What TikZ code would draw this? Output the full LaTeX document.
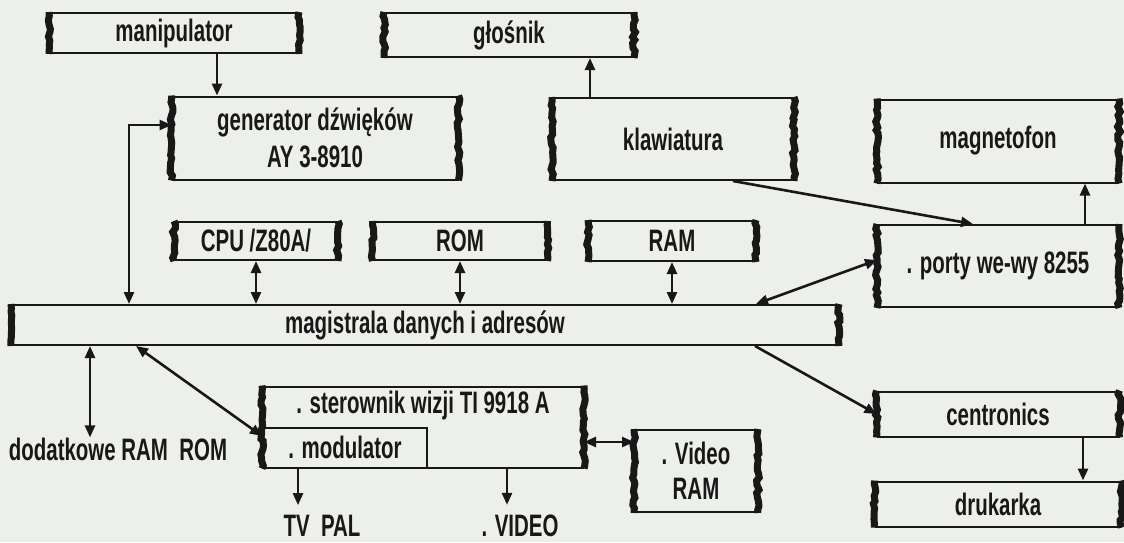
\documentclass[tikz,border=0pt]{standalone}
\usepackage{fontspec}
\setmainfont{Liberation Sans}[FakeStretch=0.66]
\usetikzlibrary{positioning, arrows.meta, decorations.pathmorphing}

\definecolor{tlo}{RGB}{237,239,235}
\definecolor{tusz}{RGB}{24,24,24}

\tikzset{
  blok/.style={draw=tusz, line width=2pt, text=tusz, inner sep=0pt},
  bok/.style={draw=tusz, line width=7pt, decorate,
    decoration={random steps, segment length=4pt, amplitude=1.4pt}},
  strz/.style={draw=tusz, line width=2.6pt, -{Triangle[length=12pt, width=10pt]}},
  dwu/.style={draw=tusz, line width=2.6pt,
    {Triangle[length=12pt, width=10pt]}-{Triangle[length=12pt, width=10pt]}},
  opis/.style={text=tusz, inner sep=0pt},
}

\begin{document}
\begin{tikzpicture}[x=1pt, y=-1pt, font=\fontsize{31}{35}\selectfont\bfseries]
\pgfmathsetseed{7}
\useasboundingbox[fill=tlo] (0,0) rectangle (1124,542);

    % Top row
    \node[blok, minimum width=248pt, minimum height=40pt] (manip) at (174,33) {manipulator};
    \node[blok, minimum width=248pt, minimum height=44pt] (glos) at (509,35) {głośnik};
    
    % Second row
    \node[blok, minimum width=285pt, minimum height=83pt, align=center] (gen) at (315,138) {generator dźwięków\\[2pt]AY 3-8910};
    \node[blok, minimum width=240pt, minimum height=82pt] (klaw) at (673,139) {klawiatura};
    \node[blok, minimum width=240pt, minimum height=83pt] (magn) at (998,141) {magnetofon};
    
    % Processor and memories
    \node[blok, minimum width=162pt, minimum height=38pt] (cpu) at (256,241) {CPU /Z80A/};
    \node[blok, minimum width=173pt, minimum height=38pt] (rom) at (460,241) {ROM};
    \node[blok, minimum width=166pt, minimum height=40pt] (ram) at (672,241) {RAM};
    \node[blok, minimum width=240pt, minimum height=82pt] (porty) at (998,266) {. porty we-wy 8255};
    
    % Bus
    \node[blok, minimum width=826pt, minimum height=40pt] (bus) at (425,325) {magistrala danych i adresów};
    
    % Video part
    \node[blok, minimum width=320pt, minimum height=81pt] (ster) at (423,427) {};
    \node[opis, below=5pt of ster.north] (stertxt) {. sterownik wizji TI 9918 A};
    \node[blok, minimum width=164pt, minimum height=40pt, anchor=south west] (modul) at (ster.south west) {. modulator};
    \node[blok, minimum width=122pt, minimum height=82pt, align=center] (vram) at (696,471) {. Video\\[0pt]RAM};
    
    % Printer
    \node[blok, minimum width=241pt, minimum height=45pt] (cent) at (998,414) {centronics};
    \node[blok, minimum width=245pt, minimum height=45pt] (druk) at (998,504) {drukarka};
    
    % Free labels
    \node[opis] (dodat) at (118,449) {dodatkowe RAM\ \ ROM};
    \node[opis] (tvpal) at (322,526) {TV\ \ PAL};
    \node[opis] (video) at (520,526) {. VIDEO};
    
    % Ragged side edges
    \foreach \n in {manip,glos,gen,klaw,magn,cpu,rom,ram,porty,bus,ster,vram,cent,druk} {
        \draw[bok] (\n.north west) -- (\n.south west);
        \draw[bok] (\n.north east) -- (\n.south east);
    }
    
    % Connections above the bus
    \draw[strz] ([xshift=43pt]manip.south) -- ([xshift=43pt]manip.south |- gen.north);
    \draw[strz] ([xshift=-83pt]klaw.north) -- ([xshift=-83pt]klaw.north |- glos.south);
    \draw[strz] ([xshift=60pt]klaw.south) -- ([xshift=-25pt]porty.north);
    \draw[strz] ([xshift=87pt]porty.north) -- ([xshift=87pt]porty.north |- magn.south);
    \draw[dwu] ([xshift=118pt]bus.north west) |- ([yshift=13pt]gen.west);
    \draw[dwu] (cpu.south) -- (cpu.south |- bus.north);
    \draw[dwu] (rom.south) -- (rom.south |- bus.north);
    \draw[dwu] (ram.south) -- (ram.south |- bus.north);
    \draw[dwu] ([yshift=6pt]porty.west) -- ([xshift=-83pt]bus.north east);
    
    % Connections below the bus
    \draw[dwu] ([xshift=79pt]bus.south west) -- ([xshift=79pt]bus.south west |- dodat.north);
    \draw[dwu] ([xshift=125pt]bus.south west) -- ([yshift=-9pt]ster.west);
    \draw[strz] ([xshift=-84pt]bus.south east) -- (cent.west);
    \draw[strz] ([xshift=85pt]cent.south) -- ([xshift=85pt]cent.south |- druk.north);
    \draw[dwu] ([yshift=-15pt]ster.east) -- ([yshift=-15pt]ster.east -| vram.west);
    \draw[strz, shorten >=10pt] ([xshift=-47pt]modul.south) -- ([xshift=-47pt]modul.south |- tvpal.north);
    \draw[strz, shorten >=10pt] ([xshift=84pt]ster.south) -- ([xshift=84pt]ster.south |- video.north);
\end{tikzpicture}
\end{document}
